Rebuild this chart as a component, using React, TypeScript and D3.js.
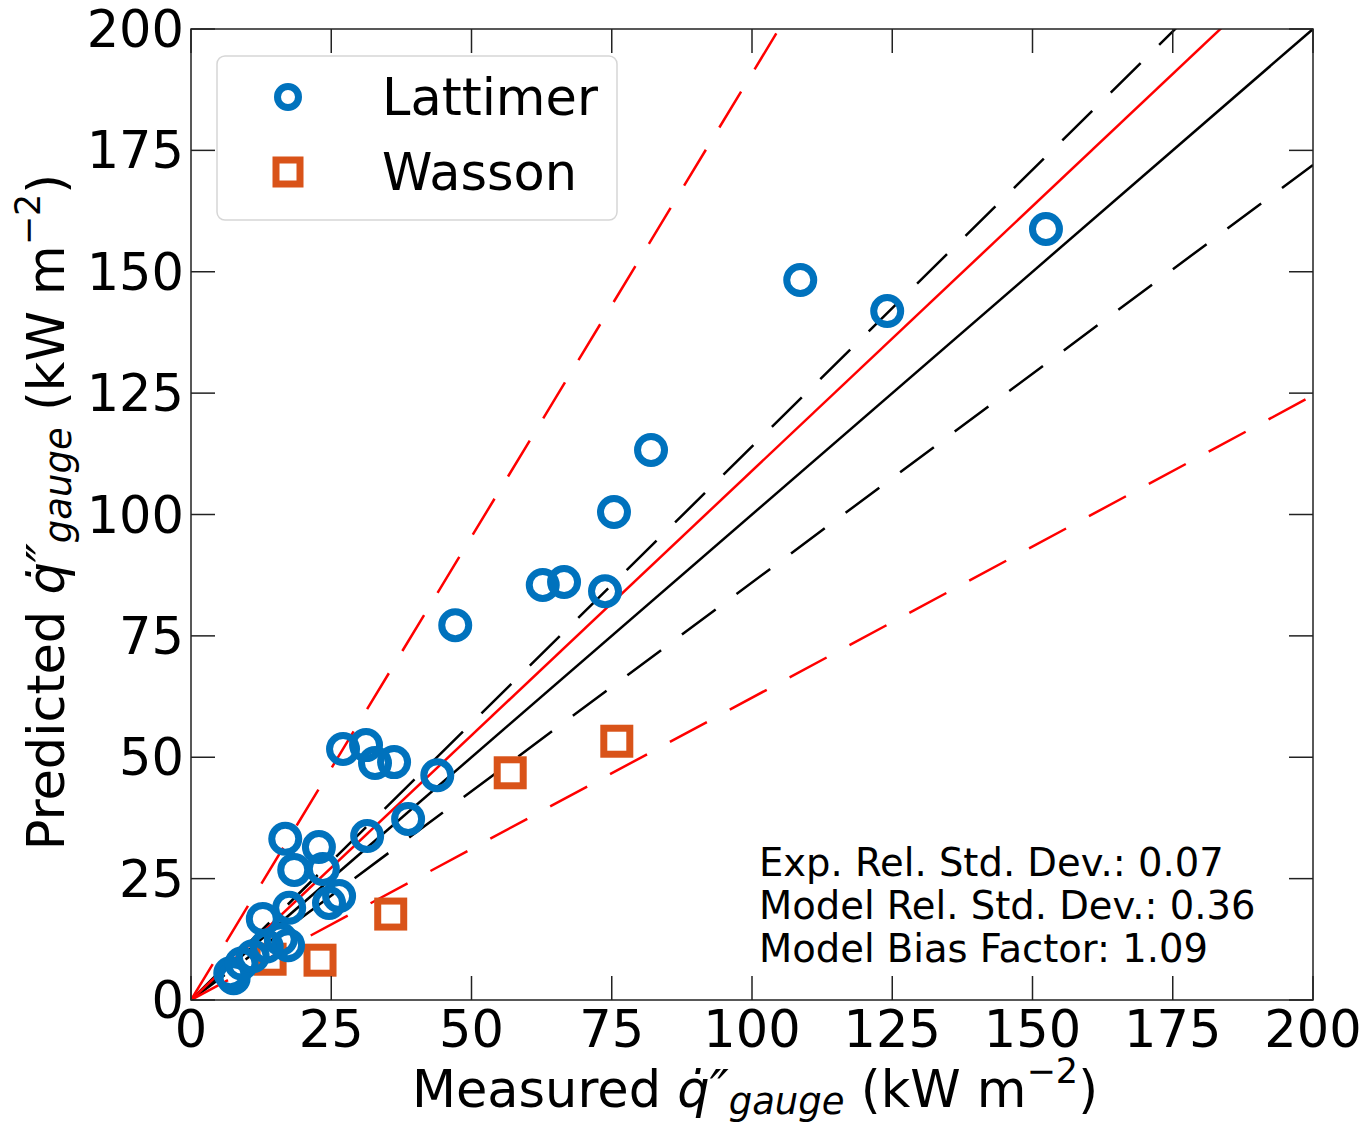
import React from "react";
import * as d3 from "d3";

const ticks = [0, 25, 50, 75, 100, 125, 150, 175, 200];

const lattimerX = [152.4, 108.6, 124.1, 82.0, 75.4, 47.1, 62.7, 66.5, 73.8, 27.1, 31.2, 32.8, 36.2, 43.9, 38.7, 31.4, 16.8, 22.8, 18.4, 23.5, 26.4, 24.6, 17.5, 12.8, 16.0, 17.3, 7.0, 7.6, 9.0, 11.0, 13.5];
const lattimerY = [158.8, 148.3, 141.9, 113.3, 100.5, 77.2, 85.5, 86.1, 84.2, 51.7, 52.5, 48.8, 49.0, 46.3, 37.3, 33.8, 33.2, 31.5, 26.8, 27.0, 21.4, 20.0, 19.0, 16.7, 12.5, 11.3, 5.5, 4.5, 7.5, 9.0, 11.0];

const wassonX = [75.9, 56.9, 35.6, 23.0, 14.1];
const wassonY = [53.3, 46.8, 17.7, 8.2, 8.4];

const expStd = 0.07;
const biasFactor = 1.09;
const modelLogSpread = 0.56;

const statsLines = [
  "Exp. Rel. Std. Dev.: 0.07",
  "Model Rel. Std. Dev.: 0.36",
  "Model Bias Factor: 1.09",
];

const BLUE = "#0072BD";
const ORANGE = "#D95319";
const FONT = "DejaVu Sans, sans-serif";

export default function App() {
  const W = 1368, H = 1125;
  const L = 191, R = 1313, T = 29, B = 1000;
  const x = d3.scaleLinear().domain([0, 200]).range([L, R]);
  const y = d3.scaleLinear().domain([0, 200]).range([B, T]);

  const refLines = [
    { k: 1, color: "#000", dash: undefined, w: 2.5 },
    { k: 1 + 2 * expStd, color: "#000", dash: "42 26", w: 2.5 },
    { k: 1 - 2 * expStd, color: "#000", dash: "42 26", w: 2.5 },
    { k: biasFactor, color: "#ff0000", dash: undefined, w: 2.5 },
    { k: biasFactor * Math.exp(modelLogSpread), color: "#ff0000", dash: "42 26", w: 2.5 },
    { k: biasFactor * Math.exp(-modelLogSpread), color: "#ff0000", dash: "42 26", w: 2.5 },
  ];
  const line = d3.line<[number, number]>().x((d) => x(d[0])).y((d) => y(d[1]));

  const tickLen = 24;
  const FS = 51;

  const label = (first: string) => [
    <tspan key="a">{first} </tspan>,
    <tspan key="b" fontStyle="italic">q̇″</tspan>,
    <tspan key="c" fontStyle="italic" fontSize={37} dy={7}>gauge</tspan>,
    <tspan key="d" dy={-7}> (kW m</tspan>,
    <tspan key="e" fontSize={35} dy={-24}>−2</tspan>,
    <tspan key="f" dy={24}>)</tspan>,
  ];

  return (
    <svg width={W} height={H} style={{ position: "absolute", left: 0, top: 0, background: "#fff" }}>
      <defs>
        <clipPath id="plotclip">
          <rect x={L} y={T} width={R - L} height={B - T} />
        </clipPath>
      </defs>
      <rect x={0} y={0} width={W} height={H} fill="#fff" />
      <g clipPath="url(#plotclip)">
        {refLines.map((r, i) => (
          <path
            key={i}
            d={line([[0, 0], [200, 200 * r.k]]) || ""}
            stroke={r.color}
            strokeWidth={r.w}
            strokeDasharray={r.dash}
            fill="none"
          />
        ))}
        {wassonX.map((v, i) => (
          <rect
            key={"w" + i}
            x={x(v) - 13}
            y={y(wassonY[i]) - 13}
            width={26}
            height={26}
            fill="none"
            stroke={ORANGE}
            strokeWidth={7}
          />
        ))}
        {lattimerX.map((v, i) => (
          <circle
            key={"l" + i}
            cx={x(v)}
            cy={y(lattimerY[i])}
            r={13.5}
            fill="none"
            stroke={BLUE}
            strokeWidth={7}
          />
        ))}
      </g>
      <rect x={L} y={T} width={R - L} height={B - T} fill="none" stroke="#222" strokeWidth={1.5} />
      {ticks.map((t) => (
        <g key={"t" + t} stroke="#222" strokeWidth={1.5}>
          <line x1={x(t)} x2={x(t)} y1={B} y2={B - tickLen} />
          <line x1={x(t)} x2={x(t)} y1={T} y2={T + tickLen} />
          <line x1={L} x2={L + tickLen} y1={y(t)} y2={y(t)} />
          <line x1={R} x2={R - tickLen} y1={y(t)} y2={y(t)} />
        </g>
      ))}
      {ticks.map((t) => (
        <text key={"xl" + t} x={x(t)} y={B + 47} textAnchor="middle" fontFamily={FONT} fontSize={FS} fill="#000">
          {t}
        </text>
      ))}
      {ticks.map((t) => (
        <text key={"yl" + t} x={L - 7} y={y(t) + 18} textAnchor="end" fontFamily={FONT} fontSize={FS} fill="#000">
          {t}
        </text>
      ))}
      <text x={755} y={1107} textAnchor="middle" fontFamily={FONT} fontSize={FS} fill="#000">
        {label("Measured")}
      </text>
      <text
        transform={`translate(64, 512) rotate(-90)`}
        textAnchor="middle"
        fontFamily={FONT}
        fontSize={FS}
        fill="#000"
      >
        {label("Predicted")}
      </text>
      <rect x={217} y={56} width={400} height={164} rx={8} fill="#fff" fillOpacity={0.8} stroke="#d6d6d6" strokeWidth={1.5} />
      <circle cx={288} cy={97} r={10.5} fill="none" stroke={BLUE} strokeWidth={7} />
      <rect x={276} y={160} width={24} height={24} fill="none" stroke={ORANGE} strokeWidth={7} />
      <text x={382} y={115} fontFamily={FONT} fontSize={FS} fill="#000">Lattimer</text>
      <text x={382} y={190} fontFamily={FONT} fontSize={FS} fill="#000">Wasson</text>
      {statsLines.map((s, i) => (
        <text key={"s" + i} x={759} y={876 + i * 43} fontFamily={FONT} fontSize={38.5} fill="#000">
          {s}
        </text>
      ))}
    </svg>
  );
}
